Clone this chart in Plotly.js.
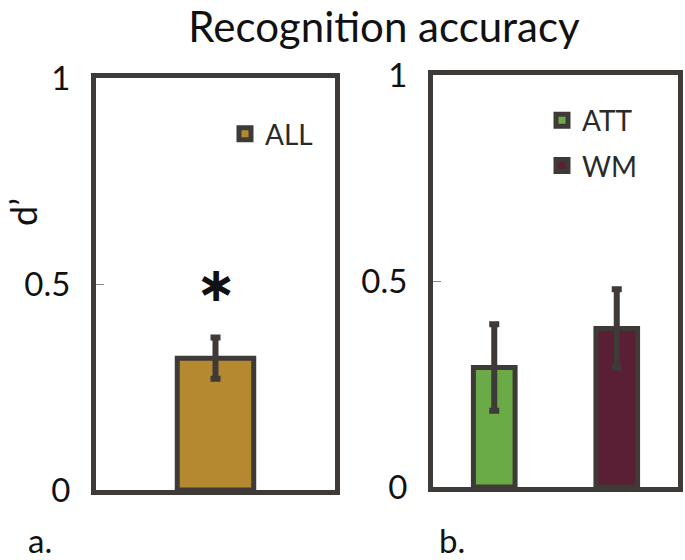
<!DOCTYPE html>
<html>
<head>
<meta charset="utf-8">
<script src="https://cdn.plot.ly/plotly-3.0.1.min.js"></script>
<style>html,body{margin:0;padding:0;background:#fff;}#chart{width:685px;height:560px;}</style>
</head>
<body>
<div id="chart"></div>
<script>
// Data
const panelA_categories = ['ALL'];
const panelA_values = [0.32];
const panelA_errors = [0.05];

const panelB_categories = ['ATT', 'WM'];
const panelB_values = [0.29, 0.385];
const panelB_errors = [0.105, 0.095];

const yTickVals = [0, 0.5, 1];
const yTickText = ['0', '0.5', '1'];

const W = 685, H = 560;
const px = v => v / W;
const py = v => 1 - v / H;

const edge = '#3d3a37';
const fnt = 'Lato, "Open Sans", sans-serif';

const errStyle = {type: 'data', visible: true, color: edge, thickness: 6, width: 5};

const traces = [
  {
    type: 'bar', name: 'ALL', x: panelA_categories, y: panelA_values,
    error_y: Object.assign({array: panelA_errors}, errStyle),
    marker: {color: '#b5892f', line: {color: edge, width: 5}},
    width: 0.32, xaxis: 'x', yaxis: 'y', legend: 'legend', showlegend: true
  },
  {
    type: 'bar', name: 'ATT', x: [panelB_categories[0]], y: [panelB_values[0]],
    error_y: Object.assign({array: [panelB_errors[0]]}, errStyle),
    marker: {color: '#6aab48', line: {color: edge, width: 5}},
    width: 0.34, xaxis: 'x2', yaxis: 'y2', legend: 'legend2', showlegend: true,
    legendgroup: 'g1'
  },
  {
    type: 'bar', name: 'WM', x: [panelB_categories[1]], y: [panelB_values[1]],
    error_y: Object.assign({array: [panelB_errors[1]]}, errStyle),
    marker: {color: '#5a1f34', line: {color: edge, width: 5}},
    width: 0.34, xaxis: 'x2', yaxis: 'y2', legend: 'legend2', showlegend: true,
    legendgroup: 'g2'
  }
];

const yax = (domain) => ({
  domain: domain, range: [0, 1], tickvals: yTickVals, ticktext: yTickText,
  ticks: 'inside', ticklen: 8, tickwidth: 1, tickcolor: '#888',
  showgrid: false, zeroline: false, showline: true, mirror: true,
  linecolor: edge, linewidth: 5, ticklabelstandoff: 14,
  tickfont: {family: fnt, size: 33, color: '#111'}, fixedrange: true
});
const xax = (domain, range, cats, anchor) => ({
  domain: domain, range: range, type: 'category', categoryarray: cats,
  showticklabels: false, ticks: '', showgrid: false, zeroline: false,
  showline: true, mirror: true, linecolor: edge, linewidth: 5, anchor: anchor,
  fixedrange: true
});

const legendFont = {family: fnt, size: 28, color: '#2a2a2a'};

const layout = {
  width: W, height: H,
  margin: {l: 0, r: 0, t: 0, b: 0},
  paper_bgcolor: '#fff', plot_bgcolor: '#fff',
  title: {text: 'Recognition accuracy', x: px(384), xref: 'paper', xanchor: 'center',
          y: py(27), yref: 'paper', yanchor: 'middle',
          font: {family: fnt, size: 42, color: '#111'}},
  xaxis: xax([px(96), px(335)], [-0.5, 0.5], panelA_categories, 'y'),
  yaxis: yax([py(490), py(78)]),
  xaxis2: xax([px(433), px(678)], [-0.5, 1.5], panelB_categories, 'y2'),
  yaxis2: Object.assign(yax([py(487), py(75)]), {anchor: 'x2'}),
  legend: {x: px(225), y: py(134), xanchor: 'left', yanchor: 'middle',
           bgcolor: 'rgba(0,0,0,0)', font: legendFont, itemclick: false},
  legend2: {x: px(542), y: py(143), xanchor: 'left', yanchor: 'middle',
            bgcolor: 'rgba(0,0,0,0)', font: legendFont, itemclick: false,
            traceorder: 'grouped', tracegroupgap: 6},
  showlegend: true,
  annotations: [
    {text: '∗', xref: 'x', yref: 'y', x: panelA_categories[0], y: 0.5,
     showarrow: false, font: {family: '"DejaVu Sans", sans-serif', size: 48, color: '#111', weight: 'bold'}},
    {text: 'd’', xref: 'paper', yref: 'paper', x: px(23), y: py(212), textangle: -90,
     showarrow: false, xanchor: 'center', yanchor: 'middle',
     font: {family: fnt, size: 36, color: '#111'}},
    {text: 'a.', xref: 'paper', yref: 'paper', x: px(40), y: py(540),
     showarrow: false, xanchor: 'center', yanchor: 'middle',
     font: {family: fnt, size: 33, color: '#111'}},
    {text: 'b.', xref: 'paper', yref: 'paper', x: px(452), y: py(540),
     showarrow: false, xanchor: 'center', yanchor: 'middle',
     font: {family: fnt, size: 33, color: '#111'}}
  ]
};

Plotly.newPlot('chart', traces, layout, {displayModeBar: false, staticPlot: true});
</script>
</body>
</html>
